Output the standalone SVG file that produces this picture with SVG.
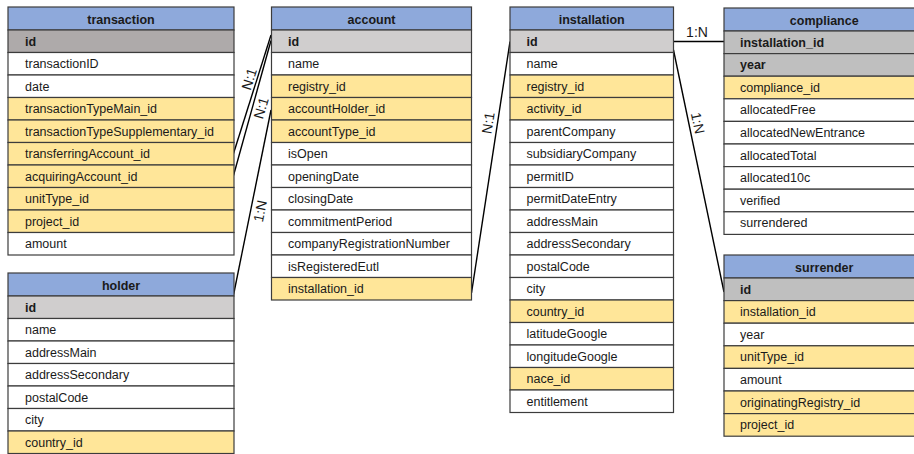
<svg xmlns="http://www.w3.org/2000/svg" width="914" height="454" viewBox="0 0 914 454">
<style>
rect{stroke:#3c3c3c;stroke-width:1.2}
.hd{fill:#8EA9DB}
.w{fill:#FFFFFF}
.y{fill:#FFE699}
.g1{fill:#AEAAAA}
.g2{fill:#D0CECE}
.g3{fill:#BFBFBF}
text{font-family:"Liberation Sans",Arial,sans-serif;font-size:12.5px;fill:#1a1a1a}
.b{font-weight:bold}
.c{text-anchor:middle;font-weight:bold}
.lbl{font-size:14px;text-anchor:middle;dominant-baseline:central}
.conn line{stroke:#000;stroke-width:1.4}
</style>
<rect x="0" y="0" width="914" height="454" fill="#fff" style="stroke:none"/>

<g id="connectors" class="conn">
  <line x1="233.5" y1="153.5" x2="271" y2="35"/>
  <line x1="233.5" y1="175.5" x2="271" y2="40.5"/>
  <line x1="233.5" y1="295" x2="271" y2="110"/>
  <line x1="471.5" y1="293" x2="510" y2="41.5"/>
  <line x1="673.5" y1="41.5" x2="724" y2="41.5"/>
  <line x1="673.5" y1="50" x2="724" y2="292"/>
  <text class="lbl" transform="translate(249,79) rotate(-72.5)">N:1</text>
  <text class="lbl" transform="translate(261,108) rotate(-74)">N:1</text>
  <text class="lbl" transform="translate(260,211) rotate(-78.5)">1:N</text>
  <text class="lbl" transform="translate(488,123) rotate(-81)">N:1</text>
  <text class="lbl" x="697" y="32">1:N</text>
  <text class="lbl" transform="translate(698,123) rotate(78)">1:N</text>
</g>

<g id="transaction">
  <rect class="hd" x="8" y="7" width="226" height="23"/>
  <text class="c" x="121" y="23.5">transaction</text>
  <rect class="g1" x="8" y="30" width="226" height="22.5"/><text class="b" x="25" y="45.5">id</text>
  <rect class="w" x="8" y="52.5" width="226" height="22.5"/><text x="25" y="68">transactionID</text>
  <rect class="w" x="8" y="75" width="226" height="22.5"/><text x="25" y="90.5">date</text>
  <rect class="y" x="8" y="97.5" width="226" height="22.5"/><text x="25" y="113">transactionTypeMain_id</text>
  <rect class="y" x="8" y="120" width="226" height="22.5"/><text x="25" y="135.5">transactionTypeSupplementary_id</text>
  <rect class="y" x="8" y="142.5" width="226" height="22.5"/><text x="25" y="158">transferringAccount_id</text>
  <rect class="y" x="8" y="165" width="226" height="22.5"/><text x="25" y="180.5">acquiringAccount_id</text>
  <rect class="y" x="8" y="187.5" width="226" height="22.5"/><text x="25" y="203">unitType_id</text>
  <rect class="y" x="8" y="210" width="226" height="22.5"/><text x="25" y="225.5">project_id</text>
  <rect class="w" x="8" y="232.5" width="226" height="22.5"/><text x="25" y="248">amount</text>
</g>

<g id="holder">
  <rect class="hd" x="8" y="273" width="226" height="23"/>
  <text class="c" x="121" y="289.5">holder</text>
  <rect class="g2" x="8" y="296" width="226" height="22.5"/><text class="b" x="25" y="311.5">id</text>
  <rect class="w" x="8" y="318.5" width="226" height="22.5"/><text x="25" y="334">name</text>
  <rect class="w" x="8" y="341" width="226" height="22.5"/><text x="25" y="356.5">addressMain</text>
  <rect class="w" x="8" y="363.5" width="226" height="22.5"/><text x="25" y="379">addressSecondary</text>
  <rect class="w" x="8" y="386" width="226" height="22.5"/><text x="25" y="401.5">postalCode</text>
  <rect class="w" x="8" y="408.5" width="226" height="22.5"/><text x="25" y="424">city</text>
  <rect class="y" x="8" y="431" width="226" height="22.5"/><text x="25" y="446.5">country_id</text>
</g>

<g id="account">
  <rect class="hd" x="271.5" y="7" width="200" height="23"/>
  <text class="c" x="371.5" y="23.5">account</text>
  <rect class="g2" x="271.5" y="30" width="200" height="22.5"/><text class="b" x="288" y="45.5">id</text>
  <rect class="w" x="271.5" y="52.5" width="200" height="22.5"/><text x="288" y="68">name</text>
  <rect class="y" x="271.5" y="75" width="200" height="22.5"/><text x="288" y="90.5">registry_id</text>
  <rect class="y" x="271.5" y="97.5" width="200" height="22.5"/><text x="288" y="113">accountHolder_id</text>
  <rect class="y" x="271.5" y="120" width="200" height="22.5"/><text x="288" y="135.5">accountType_id</text>
  <rect class="w" x="271.5" y="142.5" width="200" height="22.5"/><text x="288" y="158">isOpen</text>
  <rect class="w" x="271.5" y="165" width="200" height="22.5"/><text x="288" y="180.5">openingDate</text>
  <rect class="w" x="271.5" y="187.5" width="200" height="22.5"/><text x="288" y="203">closingDate</text>
  <rect class="w" x="271.5" y="210" width="200" height="22.5"/><text x="288" y="225.5">commitmentPeriod</text>
  <rect class="w" x="271.5" y="232.5" width="200" height="22.5"/><text x="288" y="248">companyRegistrationNumber</text>
  <rect class="w" x="271.5" y="255" width="200" height="22.5"/><text x="288" y="270.5">isRegisteredEutl</text>
  <rect class="y" x="271.5" y="277.5" width="200" height="22.5"/><text x="288" y="293">installation_id</text>
</g>

<g id="installation">
  <rect class="hd" x="510" y="7" width="163.5" height="23"/>
  <text class="c" x="591.75" y="23.5">installation</text>
  <rect class="g2" x="510" y="30" width="163.5" height="22.5"/><text class="b" x="526.5" y="45.5">id</text>
  <rect class="w" x="510" y="52.5" width="163.5" height="22.5"/><text x="526.5" y="68">name</text>
  <rect class="y" x="510" y="75" width="163.5" height="22.5"/><text x="526.5" y="90.5">registry_id</text>
  <rect class="y" x="510" y="97.5" width="163.5" height="22.5"/><text x="526.5" y="113">activity_id</text>
  <rect class="w" x="510" y="120" width="163.5" height="22.5"/><text x="526.5" y="135.5">parentCompany</text>
  <rect class="w" x="510" y="142.5" width="163.5" height="22.5"/><text x="526.5" y="158">subsidiaryCompany</text>
  <rect class="w" x="510" y="165" width="163.5" height="22.5"/><text x="526.5" y="180.5">permitID</text>
  <rect class="w" x="510" y="187.5" width="163.5" height="22.5"/><text x="526.5" y="203">permitDateEntry</text>
  <rect class="w" x="510" y="210" width="163.5" height="22.5"/><text x="526.5" y="225.5">addressMain</text>
  <rect class="w" x="510" y="232.5" width="163.5" height="22.5"/><text x="526.5" y="248">addressSecondary</text>
  <rect class="w" x="510" y="255" width="163.5" height="22.5"/><text x="526.5" y="270.5">postalCode</text>
  <rect class="w" x="510" y="277.5" width="163.5" height="22.5"/><text x="526.5" y="293">city</text>
  <rect class="y" x="510" y="300" width="163.5" height="22.5"/><text x="526.5" y="315.5">country_id</text>
  <rect class="w" x="510" y="322.5" width="163.5" height="22.5"/><text x="526.5" y="338">latitudeGoogle</text>
  <rect class="w" x="510" y="345" width="163.5" height="22.5"/><text x="526.5" y="360.5">longitudeGoogle</text>
  <rect class="y" x="510" y="367.5" width="163.5" height="22.5"/><text x="526.5" y="383">nace_id</text>
  <rect class="w" x="510" y="390" width="163.5" height="22.5"/><text x="526.5" y="405.5">entitlement</text>
</g>

<g id="compliance">
  <rect class="hd" x="724" y="8" width="200.5" height="23"/>
  <text class="c" x="824.25" y="24.5">compliance</text>
  <rect class="g3" x="724" y="31" width="200.5" height="22.6"/><text class="b" x="740" y="46.5">installation_id</text>
  <rect class="g3" x="724" y="53.6" width="200.5" height="22.6"/><text class="b" x="740" y="69.1">year</text>
  <rect class="y" x="724" y="76.2" width="200.5" height="22.6"/><text x="740" y="91.7">compliance_id</text>
  <rect class="w" x="724" y="98.8" width="200.5" height="22.6"/><text x="740" y="114.3">allocatedFree</text>
  <rect class="w" x="724" y="121.4" width="200.5" height="22.6"/><text x="740" y="136.9">allocatedNewEntrance</text>
  <rect class="w" x="724" y="144" width="200.5" height="22.6"/><text x="740" y="159.5">allocatedTotal</text>
  <rect class="w" x="724" y="166.6" width="200.5" height="22.6"/><text x="740" y="182.1">allocated10c</text>
  <rect class="w" x="724" y="189.2" width="200.5" height="22.6"/><text x="740" y="204.7">verified</text>
  <rect class="w" x="724" y="211.8" width="200.5" height="22.6"/><text x="740" y="227.3">surrendered</text>
</g>

<g id="surrender">
  <rect class="hd" x="724" y="255" width="200.5" height="23"/>
  <text class="c" x="824.25" y="271.5">surrender</text>
  <rect class="g3" x="724" y="278" width="200.5" height="22.6"/><text class="b" x="740" y="293.5">id</text>
  <rect class="y" x="724" y="300.6" width="200.5" height="22.6"/><text x="740" y="316.1">installation_id</text>
  <rect class="w" x="724" y="323.2" width="200.5" height="22.6"/><text x="740" y="338.7">year</text>
  <rect class="y" x="724" y="345.8" width="200.5" height="22.6"/><text x="740" y="361.3">unitType_id</text>
  <rect class="w" x="724" y="368.4" width="200.5" height="22.6"/><text x="740" y="383.9">amount</text>
  <rect class="y" x="724" y="391" width="200.5" height="22.6"/><text x="740" y="406.5">originatingRegistry_id</text>
  <rect class="y" x="724" y="413.6" width="200.5" height="22.6"/><text x="740" y="429.1">project_id</text>
</g>
</svg>
